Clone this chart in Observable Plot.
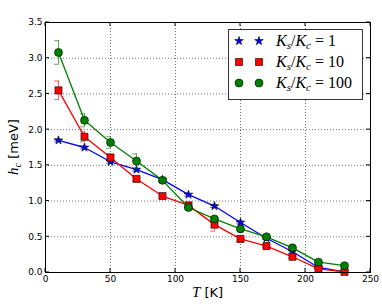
<!DOCTYPE html>
<html>
<head>
<meta charset="utf-8">
<script src="https://cdn.jsdelivr.net/npm/d3@7"></script>
<script src="https://cdn.jsdelivr.net/npm/@observablehq/plot@0.6"></script>
<style>
  body { margin: 0; background: #fff; }
  #chart svg { display: block; }
</style>
</head>
<body>
<div id="chart"></div>
<script>
// Temperatures (K) at which the critical field was computed
const temperatures = [10, 30, 50, 70, 90, 110, 130, 150, 170, 190, 210, 230];

// Critical field h_c (meV) for three stiffness ratios K_s/K_c
const hcRatio1   = [1.85, 1.75, 1.55, 1.44, 1.30, 1.09, 0.93, 0.70, 0.48, 0.29, 0.07, 0.01];
const hcRatio10  = [2.55, 1.90, 1.61, 1.31, 1.07, 0.94, 0.67, 0.47, 0.37, 0.22, 0.05, 0.01];
const hcRatio100 = [3.08, 2.13, 1.82, 1.56, 1.29, 0.91, 0.75, 0.61, 0.50, 0.345, 0.145, 0.095];

// Error-bar half widths (meV)
const errRatio1   = [0.02, 0.02, 0.02, 0.02, 0.02, 0.02, 0.02, 0.02, 0.02, 0.02, 0.01, 0.01];
const errRatio10  = [0.13, 0.07, 0.05, 0.03, 0.03, 0.03, 0.09, 0.04, 0.02, 0.02, 0.01, 0.01];
const errRatio100 = [0.165, 0.09, 0.08, 0.10, 0.03, 0.03, 0.03, 0.02, 0.02, 0.02, 0.01, 0.01];

const seriesNames = ["1", "10", "100"];
const seriesColors = ["#0000ff", "#ff0000", "#008000"];
const seriesSymbols = ["star", "square", "circle"];

const xTicks = [0, 50, 100, 150, 200, 250];
const yTicks = [0, 0.5, 1.0, 1.5, 2.0, 2.5, 3.0, 3.5];

(function () {
  const markerRadius = {star: 2.7, square: 4, circle: 4};

  const series = [hcRatio1, hcRatio10, hcRatio100].map((vals, i) => ({
    name: seriesNames[i],
    color: seriesColors[i],
    symbol: seriesSymbols[i],
    rows: temperatures.map((t, j) => ({
      t, h: vals[j], err: [errRatio1, errRatio10, errRatio100][i][j]
    }))
  }));

  const capShape = {draw(ctx, l) { ctx.moveTo(0, -l / 2); ctx.lineTo(0, l / 2); }};

  const marks = [
    Plot.gridX(xTicks, {stroke: "#000", strokeOpacity: 0.55, strokeDasharray: "1,2"}),
    Plot.gridY(yTicks, {stroke: "#000", strokeOpacity: 0.55, strokeDasharray: "1,2"}),
  ];

  for (const s of series) {
    marks.push(
      Plot.ruleX(s.rows, {x: "t", y1: d => d.h - d.err, y2: d => d.h + d.err, stroke: s.color, strokeOpacity: 0.65, strokeWidth: 1}),
      Plot.vector(s.rows, {x: "t", y: d => d.h + d.err, length: 4, rotate: 90, anchor: "middle", stroke: s.color, strokeOpacity: 0.65, strokeWidth: 1, shape: capShape}),
      Plot.vector(s.rows, {x: "t", y: d => d.h - d.err, length: 4, rotate: 90, anchor: "middle", stroke: s.color, strokeOpacity: 0.65, strokeWidth: 1, shape: capShape}),
      Plot.line(s.rows, {x: "t", y: "h", stroke: s.color, strokeWidth: 1.3}),
      Plot.dot(s.rows, {x: "t", y: "h", symbol: () => s.symbol, r: markerRadius[s.symbol], fill: s.color, stroke: "#000", strokeWidth: 0.6})
    );
  }

  marks.push(Plot.frame({stroke: "#000", strokeWidth: 1}));

  const chart = Plot.plot({
    width: 382,
    height: 306,
    marginTop: 22,
    marginBottom: 34,
    marginLeft: 45,
    marginRight: 12,
    style: {fontFamily: "DejaVu Sans", fontSize: "9px", background: "#fff", color: "#000"},
    x: {domain: [0, 250], ticks: xTicks, tickSize: 0, tickPadding: 3, tickFormat: d3.format("d"), label: null},
    y: {domain: [0, 3.5], ticks: yTicks, tickSize: 0, tickPadding: 3, tickFormat: d3.format(".1f"), label: null},
    symbol: {type: "identity"},
    marks
  });

  document.getElementById("chart").appendChild(chart);

  // Inward ticks on all four sides, axis labels and legend
  const svg = d3.select(chart);
  const xs = chart.scale("x"), ys = chart.scale("y");
  const X = v => xs.apply(v), Y = v => ys.apply(v);
  const x0 = X(0), x1 = X(250), y0 = Y(0), y1 = Y(3.5);
  const tickLen = 4;
  const tg = svg.append("g").attr("stroke", "#000").attr("stroke-width", 1);
  for (const v of xTicks) {
    tg.append("line").attr("x1", X(v)).attr("x2", X(v)).attr("y1", y0).attr("y2", y0 - tickLen);
    tg.append("line").attr("x1", X(v)).attr("x2", X(v)).attr("y1", y1).attr("y2", y1 + tickLen);
  }
  for (const v of yTicks) {
    tg.append("line").attr("y1", Y(v)).attr("y2", Y(v)).attr("x1", x0).attr("x2", x0 + tickLen);
    tg.append("line").attr("y1", Y(v)).attr("y2", Y(v)).attr("x1", x1).attr("x2", x1 - tickLen);
  }

  const mathFont = "'Liberation Serif', 'DejaVu Serif', serif";
  const textFont = "'DejaVu Sans', sans-serif";

  // x-axis label: T [K]
  const xl = svg.append("text")
    .attr("x", (x0 + x1) / 2)
    .attr("y", 297)
    .attr("text-anchor", "middle")
    .attr("font-size", 13);
  xl.append("tspan").attr("font-family", mathFont).attr("font-style", "italic").attr("font-size", 15).text("T");
  xl.append("tspan").attr("font-family", textFont).text(" [K]");

  // y-axis label: h_c [meV]
  const yl = svg.append("text")
    .attr("transform", `translate(18,${(y0 + y1) / 2}) rotate(-90)`)
    .attr("text-anchor", "middle")
    .attr("font-size", 13);
  yl.append("tspan").attr("font-family", mathFont).attr("font-style", "italic").attr("font-size", 15).text("h");
  yl.append("tspan").attr("font-family", mathFont).attr("font-style", "italic").attr("font-size", 10).attr("dy", 3).text("c");
  yl.append("tspan").attr("font-family", textFont).attr("dy", -3).text(" [meV]");

  // Legend
  const lg = svg.append("g").attr("text-anchor", "start");
  lg.append("rect")
    .attr("x", 228.5).attr("y", 29.5).attr("width", 134).attr("height", 70)
    .attr("fill", "#fff").attr("stroke", "#333").attr("stroke-width", 1);
  series.forEach((s, i) => {
    const cy = 41 + i * 21;
    const r = markerRadius[s.symbol];
    const symType = {star: d3.symbolStar, square: d3.symbolSquare, circle: d3.symbolCircle}[s.symbol];
    for (const cx of [239, 259]) {
      lg.append("path")
        .attr("d", d3.symbol(symType, Math.PI * r * r)())
        .attr("transform", `translate(${cx},${cy})`)
        .attr("fill", s.color).attr("stroke", "#000").attr("stroke-width", 0.6);
    }
    const t = lg.append("text")
      .attr("x", 276).attr("y", cy + 5)
      .attr("font-family", mathFont).attr("font-size", 16);
    t.append("tspan").attr("font-style", "italic").text("K");
    t.append("tspan").attr("font-style", "italic").attr("font-size", 11).attr("dy", 3).text("s");
    t.append("tspan").attr("dy", -3).text("/");
    t.append("tspan").attr("font-style", "italic").text("K");
    t.append("tspan").attr("font-style", "italic").attr("font-size", 11).attr("dy", 3).text("c");
    t.append("tspan").attr("dy", -3).text(" = " + s.name);
  });
})();
</script>
</body>
</html>
